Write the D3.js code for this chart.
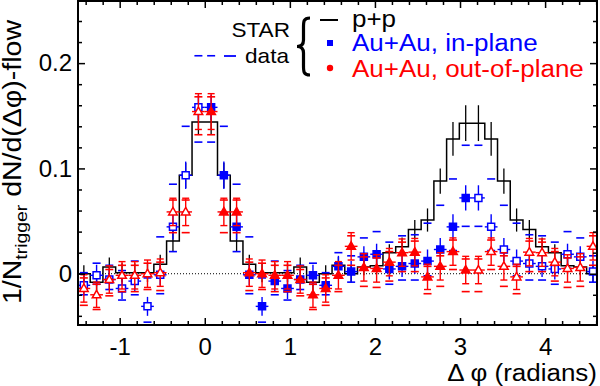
<!DOCTYPE html>
<html>
<head>
<meta charset="utf-8">
<script src="https://cdn.jsdelivr.net/npm/d3@7"></script>
<style>
  body { margin: 0; background: #fff; }
  text { font-family: "Liberation Sans", Arial, sans-serif; }
</style>
</head>
<body>
<div id="chart"></div>
<script>
// Bin centres (0..pi), bin width pi/21
const binWidth = 0.1496;
const binCenters = [0.0748, 0.2244, 0.3740, 0.5236, 0.6732, 0.8228, 0.9724, 1.1220, 1.2716, 1.4212,
    1.5708, 1.7204, 1.8700, 2.0196, 2.1692, 2.3188, 2.4684, 2.6180, 2.7676, 2.9172, 3.0668];

// p+p reference (histogram)
const ppValues = [0.144, 0.0935, 0.031, 0.009, 0.001, 0.001, 0.001, 0.0065, -0.008, 0.0, 0.008,
    0.0, 0.0065, 0.0075, 0.020, 0.0255, 0.042, 0.051, 0.088, 0.128, 0.143];
const ppErrors = [0.012, 0.012, 0.010, 0.009, 0.009, 0.009, 0.009, 0.009, 0.008, 0.008, 0.008,
    0.008, 0.008, 0.008, 0.008, 0.009, 0.009, 0.011, 0.012, 0.016, 0.017];

// Au+Au in-plane
const inPlane = [0.158, 0.0935, 0.0445, -0.001, -0.031, -0.007, -0.014, -0.0055, -0.0015, -0.011, 0.007,
    0.002, 0.016, 0.0185, 0.0045, 0.007, 0.0097, 0.012, 0.023, 0.0445, 0.072];
const inPlaneErr = [0.012, 0.013, 0.012, 0.010, 0.009, 0.010, 0.010, 0.010, 0.010, 0.010, 0.010,
    0.010, 0.010, 0.010, 0.010, 0.010, 0.010, 0.011, 0.011, 0.012, 0.012];
const inPlaneSysHi = [0.207, 0.140, 0.085, 0.035, -0.004, 0.012, 0.003, 0.008, 0.010, 0.001, 0.020,
    0.017, 0.034, 0.040, 0.030, 0.036, 0.037, 0.048, 0.065, 0.090, 0.122];
const inPlaneSysLo = [0.125, 0.058, 0.021, -0.019, -0.046, -0.020, -0.025, -0.015, -0.010, -0.020, -0.004,
    -0.008, 0.004, 0.005, -0.010, -0.006, -0.006, -0.002, 0.006, 0.022, 0.045];

// Au+Au out-of-plane
const outPlane = [0.154, 0.0587, 0.0587, 0.001, 0.0, -0.0015, -0.0015, -0.0055, -0.020, -0.014, -0.0015,
    0.026, 0.006, 0.005, 0.011, 0.020, 0.0205, -0.003, 0.007, 0.021, 0.0035];
const outPlaneErr = [0.017, 0.013, 0.013, 0.013, 0.013, 0.013, 0.013, 0.013, 0.012, 0.013, 0.013,
    0.013, 0.013, 0.013, 0.013, 0.013, 0.013, 0.012, 0.013, 0.013, 0.013];
const outPlaneSysHi = [0.168, 0.070, 0.070, 0.011, 0.010, 0.008, 0.008, 0.004, -0.010, -0.004, 0.008,
    0.036, 0.016, 0.015, 0.021, 0.030, 0.031, 0.007, 0.017, 0.032, 0.014];
const outPlaneSysLo = [0.132, 0.039, 0.039, -0.016, -0.015, -0.017, -0.017, -0.021, -0.034, -0.030, -0.017,
    0.008, -0.012, -0.013, -0.007, 0.002, 0.002, -0.019, -0.012, 0.004, -0.017];

// Axis ticks
const xTicks = [-1, 0, 1, 2, 3, 4];
const yTicks = [0, 0.1, 0.2];
const xMinorTicks = [-1.4, -1.2, -0.8, -0.6, -0.4, -0.2, 0.2, 0.4, 0.6, 0.8, 1.2, 1.4, 1.6, 1.8,
    2.2, 2.4, 2.6, 2.8, 3.2, 3.4, 3.6, 3.8, 4.2, 4.4, 4.6];
const yMinorTicks = [-0.04, -0.02, 0.02, 0.04, 0.06, 0.08, 0.12, 0.14, 0.16, 0.18, 0.22, 0.24];

const legendItems = ["p+p", "Au+Au, in-plane", "Au+Au, out-of-plane"];

const width = 600, height = 386;
const plot = { left: 78, right: 597, top: 1, bottom: 325 };
const blue = "#0000ff", red = "#ff0000";
const twoPi = 2 * Math.PI;

const x = d3.scaleLinear().domain([-1.49, 4.61]).range([plot.left, plot.right]);
const y = d3.scaleLinear().domain([-0.0487, 0.259]).range([plot.bottom, plot.top]);

const svg = d3.select("#chart").append("svg")
    .attr("width", width)
    .attr("height", height);

svg.append("clipPath").attr("id", "clip")
    .append("rect")
    .attr("x", plot.left).attr("y", plot.top)
    .attr("width", plot.right - plot.left).attr("height", plot.bottom - plot.top);

// Every measured bin is shown at dphi, plus reflected copies at -dphi and 2pi-dphi
function reflect(values, extra) {
    const out = [];
    binCenters.forEach((c, i) => {
        const base = { i, v: values[i] };
        if (extra) Object.assign(base, extra(i));
        out.push({ ...base, c, open: false });
        out.push({ ...base, c: -c, open: true });
        out.push({ ...base, c: twoPi - c, open: true });
    });
    const [lo, hi] = x.domain();
    return out.filter(d => d.c > lo && d.c < hi);
}

// p+p histogram
const ppBins = [];
binCenters.forEach((c, i) => {
    [c, -c, twoPi - c].forEach(cc => ppBins.push({ c: cc, v: ppValues[i], e: ppErrors[i] }));
});
ppBins.sort((a, b) => a.c - b.c);
const ppLine = [];
ppBins.forEach(d => {
    ppLine.push([d.c - binWidth / 2, d.v]);
    ppLine.push([d.c + binWidth / 2, d.v]);
});

const plotArea = svg.append("g").attr("clip-path", "url(#clip)");

// zero line
plotArea.append("line")
    .attr("x1", plot.left).attr("x2", plot.right)
    .attr("y1", y(0)).attr("y2", y(0))
    .attr("stroke", "#000").attr("stroke-width", 1)
    .attr("stroke-dasharray", "1,2");

plotArea.append("path")
    .datum(ppLine)
    .attr("d", d3.line().x(d => x(d[0])).y(d => y(d[1])))
    .attr("fill", "none")
    .attr("stroke", "#000")
    .attr("stroke-width", 1.5);

plotArea.selectAll(".pp-err")
    .data(ppBins.filter(d => d.c > -1.49 && d.c < 4.61))
    .enter().append("line")
    .attr("class", "pp-err")
    .attr("x1", d => x(d.c)).attr("x2", d => x(d.c))
    .attr("y1", d => y(d.v - d.e)).attr("y2", d => y(d.v + d.e))
    .attr("stroke", "#000").attr("stroke-width", 1.3);

// Au+Au series
function drawSeries(values, errs, sysHi, sysLo, color, marker, caps) {
    const data = reflect(values, i => ({ e: errs[i], hi: sysHi[i], lo: sysLo[i] }));
    const g = plotArea.append("g");
    const halfW = x(binWidth / 2) - x(0);

    // systematic band dashes
    ["hi", "lo"].forEach(k => {
        g.selectAll(".sys-" + k)
            .data(data)
            .enter().append("line")
            .attr("class", "sys-" + k)
            .attr("x1", d => x(d.c) - 4).attr("x2", d => x(d.c) + 4)
            .attr("y1", d => y(d[k])).attr("y2", d => y(d[k]))
            .attr("stroke", color).attr("stroke-width", 1.6);
    });

    // error bars
    g.selectAll(".ey")
        .data(data)
        .enter().append("line")
        .attr("class", "ey")
        .attr("x1", d => x(d.c)).attr("x2", d => x(d.c))
        .attr("y1", d => y(d.v - d.e)).attr("y2", d => y(d.v + d.e))
        .attr("stroke", color).attr("stroke-width", 1.4);
    g.selectAll(".ex")
        .data(data)
        .enter().append("line")
        .attr("class", "ex")
        .attr("x1", d => x(d.c) - halfW).attr("x2", d => x(d.c) + halfW)
        .attr("y1", d => y(d.v)).attr("y2", d => y(d.v))
        .attr("stroke", color).attr("stroke-width", 1.4);
    if (caps) {
        [-1, 1].forEach(s => {
            g.selectAll(s > 0 ? ".cap-up" : ".cap-dn")
                .data(data)
                .enter().append("line")
                .attr("class", s > 0 ? "cap-up" : "cap-dn")
                .attr("x1", d => x(d.c) - 3.5).attr("x2", d => x(d.c) + 3.5)
                .attr("y1", d => y(d.v + s * d.e))
                .attr("y2", d => y(d.v + s * d.e))
                .attr("stroke", color).attr("stroke-width", 1.4);
        });
    }

    // markers
    g.selectAll(".mk")
        .data(data)
        .enter().append("path")
        .attr("class", "mk")
        .attr("transform", d => `translate(${x(d.c)},${y(d.v)})`)
        .attr("d", marker)
        .attr("fill", d => d.open ? "#fff" : color)
        .attr("stroke", color)
        .attr("stroke-width", 1.5);
}

const squarePath = "M-3.5,-3.5H3.5V3.5H-3.5Z";
const trianglePath = "M0,-4.5L4.3,3L-4.3,3Z";
drawSeries(inPlane, inPlaneErr, inPlaneSysHi, inPlaneSysLo, blue, squarePath, false);
drawSeries(outPlane, outPlaneErr, outPlaneSysHi, outPlaneSysLo, red, trianglePath, true);

// frame and ticks
function styleAxis(g) {
    g.select(".domain").remove();
    g.selectAll(".tick line").attr("stroke", "#000").attr("stroke-width", 1.5);
    g.selectAll(".tick text")
        .attr("fill", "#000")
        .style("font-family", '"Liberation Sans", Arial, sans-serif')
        .style("font-size", "24px");
}

svg.append("g").attr("transform", `translate(0,${plot.bottom})`)
    .call(d3.axisBottom(x).tickValues(xTicks).tickSize(-7).tickPadding(13).tickFormat(d => String(d)))
    .call(styleAxis);
svg.append("g").attr("transform", `translate(0,${plot.bottom})`)
    .call(d3.axisBottom(x).tickValues(xMinorTicks).tickSize(-4).tickFormat(""))
    .call(styleAxis);
svg.append("g").attr("transform", `translate(0,${plot.top})`)
    .call(d3.axisTop(x).tickValues(xTicks).tickSize(-7).tickFormat(""))
    .call(styleAxis);
svg.append("g").attr("transform", `translate(0,${plot.top})`)
    .call(d3.axisTop(x).tickValues(xMinorTicks).tickSize(-4).tickFormat(""))
    .call(styleAxis);

svg.append("g").attr("transform", `translate(${plot.left},0)`)
    .call(d3.axisLeft(y).tickValues(yTicks).tickSize(-7).tickPadding(6).tickFormat(d => String(d)))
    .call(styleAxis);
svg.append("g").attr("transform", `translate(${plot.left},0)`)
    .call(d3.axisLeft(y).tickValues(yMinorTicks).tickSize(-4).tickFormat(""))
    .call(styleAxis);
svg.append("g").attr("transform", `translate(${plot.right},0)`)
    .call(d3.axisRight(y).tickValues(yTicks).tickSize(-7).tickFormat(""))
    .call(styleAxis);
svg.append("g").attr("transform", `translate(${plot.right},0)`)
    .call(d3.axisRight(y).tickValues(yMinorTicks).tickSize(-4).tickFormat(""))
    .call(styleAxis);

svg.append("rect")
    .attr("x", plot.left).attr("y", plot.top)
    .attr("width", plot.right - plot.left).attr("height", plot.bottom - plot.top)
    .attr("fill", "none").attr("stroke", "#000").attr("stroke-width", 2);

// axis titles
svg.append("text")
    .attr("transform", `translate(${plot.right},381) scale(1.13,1)`)
    .attr("text-anchor", "end")
    .style("font-size", "23px")
    .text("Δ φ (radians)");

const yTitle = svg.append("text")
    .attr("transform", "translate(21,162) rotate(-90) scale(1.14,1)")
    .attr("text-anchor", "middle")
    .style("font-size", "25px");
yTitle.append("tspan").text("1/N");
yTitle.append("tspan").attr("dy", 6).style("font-size", "17px").text("trigger");
yTitle.append("tspan").attr("dy", -6).text(" dN/d(Δφ)-flow");

// legend
const legend = svg.append("g").attr("class", "legend");
legend.append("text")
    .attr("transform", "translate(290,37) scale(1.13,1)")
    .attr("text-anchor", "end")
    .style("font-size", "20px")
    .text("STAR");
legend.append("text")
    .attr("transform", "translate(289,63) scale(1.13,1)")
    .attr("text-anchor", "end")
    .style("font-size", "20px")
    .text("data");
legend.append("line")
    .attr("x1", 224).attr("x2", 236).attr("y1", 56).attr("y2", 56)
    .attr("stroke", blue).attr("stroke-width", 1.8);
legend.append("path")
    .attr("d", "M310,18 C303,18 303.5,22 303.5,29 L303.5,40 C303.5,44.5 301.5,46.5 297,46.5 C301.5,46.5 303.5,48.5 303.5,53 L303.5,64 C303.5,71 303,75 310,75")
    .attr("fill", "none").attr("stroke", "#000").attr("stroke-width", 3.2);

legend.append("line")
    .attr("x1", 320).attr("x2", 338).attr("y1", 20).attr("y2", 20)
    .attr("stroke", "#000").attr("stroke-width", 2);
legend.append("rect")
    .attr("x", 327).attr("y", 40).attr("width", 6).attr("height", 6)
    .attr("fill", blue);
legend.append("circle")
    .attr("cx", 330).attr("cy", 68).attr("r", 3.2)
    .attr("fill", red);

const legendColors = ["#000", blue, red];
const legendY = [27, 51, 77];
legend.selectAll(".legend-text")
    .data(legendItems)
    .enter().append("text")
    .attr("class", "legend-text")
    .attr("transform", (d, i) => `translate(352,${legendY[i]}) scale(1.13,1)`)
    .attr("fill", (d, i) => legendColors[i])
    .style("font-size", "23px")
    .text(d => d);
</script>
</body>
</html>
